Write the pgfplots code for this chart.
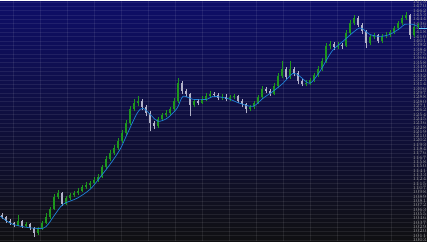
\documentclass[border=0pt]{standalone}
\usepackage{pgfplots}
\usepackage{pgfplotstable}
\pgfplotsset{compat=1.18}
\definecolor{bgtop}{RGB}{14,14,104}
\definecolor{bgmid}{RGB}{16,16,70}
\definecolor{bgbot}{RGB}{16,16,18}
\definecolor{upc}{RGB}{30,150,30}
\definecolor{dnc}{RGB}{178,178,200}
\definecolor{mac}{RGB}{30,130,215}
\definecolor{lastc}{RGB}{110,200,255}

\pgfplotstableread{
x o hi lo c
18 16 26 15 20
26 15 19 14 17
38 8 14 6 12
42 12 20 11 18
46 18 28 17 24
50 24 34 22 32
54 32 47 31 44
58 44 51 42 48
66 37 45 36 43
70 43 48 41 46
74 46 50 44 48
78 48 53 46 50
82 50 56 49 54
86 54 59 52 56
90 56 60 53 58
94 58 64 56 61
98 61 67 59 64
102 64 76 63 74
106 74 85 72 82
110 82 91 80 88
114 88 96 86 93
118 93 103 91 100
122 100 111 98 108
126 108 121 106 118
130 118 135 116 132
134 132 142 130 138
138 138 145 135 140
158 115 124 113 122
162 122 128 120 126
166 126 131 124 128
170 128 134 126 132
174 132 143 130 140
178 140 163 138 158
194 136 142 134 140
202 138 145 137 142
206 142 148 140 145
210 145 150 143 147
222 143 147 141 144
230 142 146 140 144
234 144 147 142 145
250 132 136 130 134
254 134 140 132 138
258 138 146 137 144
262 144 155 142 152
274 147 158 146 155
278 155 168 153 165
282 165 180 163 172
290 164 180 162 172
306 157 161 155 158
310 158 163 156 161
314 161 168 159 166
318 166 175 164 172
322 172 183 170 180
326 180 198 178 195
330 195 200 192 197
338 194 199 192 196
346 195 211 194 208
350 208 221 206 218
354 218 226 216 223
370 198 206 196 204
374 204 208 202 206
382 200 207 198 205
386 205 209 203 206
390 206 211 204 209
394 209 215 207 213
398 213 220 211 218
402 218 226 216 223
406 223 229 221 226
414 206 216 204 214
418 214 218 212 216
}\up

\pgfplotstableread{
x o hi lo c
2 26 28 22 24
6 24 25 18 20
10 20 22 16 18
14 18 19 14 16
22 20 21 13 15
30 17 18 11 13
34 13 14 4 8
62 48 49 35 37
142 140 142 131 134
146 134 136 125 128
150 128 130 110 118
154 118 120 112 115
182 158 160 147 150
186 150 152 144 147
190 147 148 125 136
198 140 142 136 138
214 147 149 144 146
218 146 148 141 143
226 144 147 140 142
238 145 146 138 140
242 140 142 134 137
246 137 138 128 132
266 152 154 148 150
270 150 152 145 147
286 172 174 162 164
294 172 174 165 168
298 168 170 157 160
302 160 162 155 157
334 197 199 191 194
342 196 198 192 195
358 223 225 214 216
362 216 218 207 210
366 210 211 193 198
378 206 207 198 200
410 226 227 202 206
}\down

\begin{document}
\begin{tikzpicture}
\begin{axis}[
  scale only axis, width=427bp, height=240bp,
  xmin=0, xmax=427, ymin=0, ymax=240,
  axis line style={draw=none},
  axis background/.style={shade, top color=bgtop, middle color=bgmid, bottom color=bgbot},
  xtick={13,40,...,420}, xticklabels={},
  ytick={1.3,5.63,...,238}, 
  yticklabel pos=right,
  yticklabel={\pgfmathparse{1000+\tick*2}\pgfmathprintnumber[fixed,precision=0,1000 sep={}]{\pgfmathresult}},
  yticklabel style={anchor=east, font=\fontsize{3}{3}\selectfont, text=gray!80, inner sep=0.4pt},
  major tick length=0pt,
  grid=major,
  major grid style={draw=white, opacity=0.08, line width=0.5bp},
]
\addplot[draw=upc, line width=0.5bp, quiver={u=0, v=\thisrow{hi}-\thisrow{lo}}] table[x=x, y=lo] {\up};
\addplot[draw=upc, line width=1.7bp, quiver={u=0, v=\thisrow{c}-\thisrow{o}}] table[x=x, y=o] {\up};
\addplot[draw=dnc, line width=0.5bp, quiver={u=0, v=\thisrow{hi}-\thisrow{lo}}] table[x=x, y=lo] {\down};
\addplot[draw=dnc, line width=1.7bp, quiver={u=0, v=\thisrow{c}-\thisrow{o}}] table[x=x, y=o] {\down};
\addplot[mac, line width=0.7bp, smooth, tension=0.5, mark=none] coordinates {
(0,25) (10,18) (20,15) (33,13) (43,13) (48,17) (55,27) (63,37) (77,43) (90,52)
(100,64) (110,77) (120,92) (127,107) (137,128) (143,133) (152,125) (158,120)
(167,123) (177,133) (183,145) (193,142) (207,142) (213,145) (227,143) (240,138)
(253,135) (263,143) (273,150) (283,158) (293,168) (300,165) (310,158) (320,170)
(332,190) (343,200) (357,212) (362,213) (370,207) (380,205) (390,207) (400,213)
(405,217) (413,217) (418,215)};
\addplot[lastc, line width=1.5bp, mark=none] coordinates {(419,213) (427,213)};
\end{axis}
\end{tikzpicture}
\end{document}
